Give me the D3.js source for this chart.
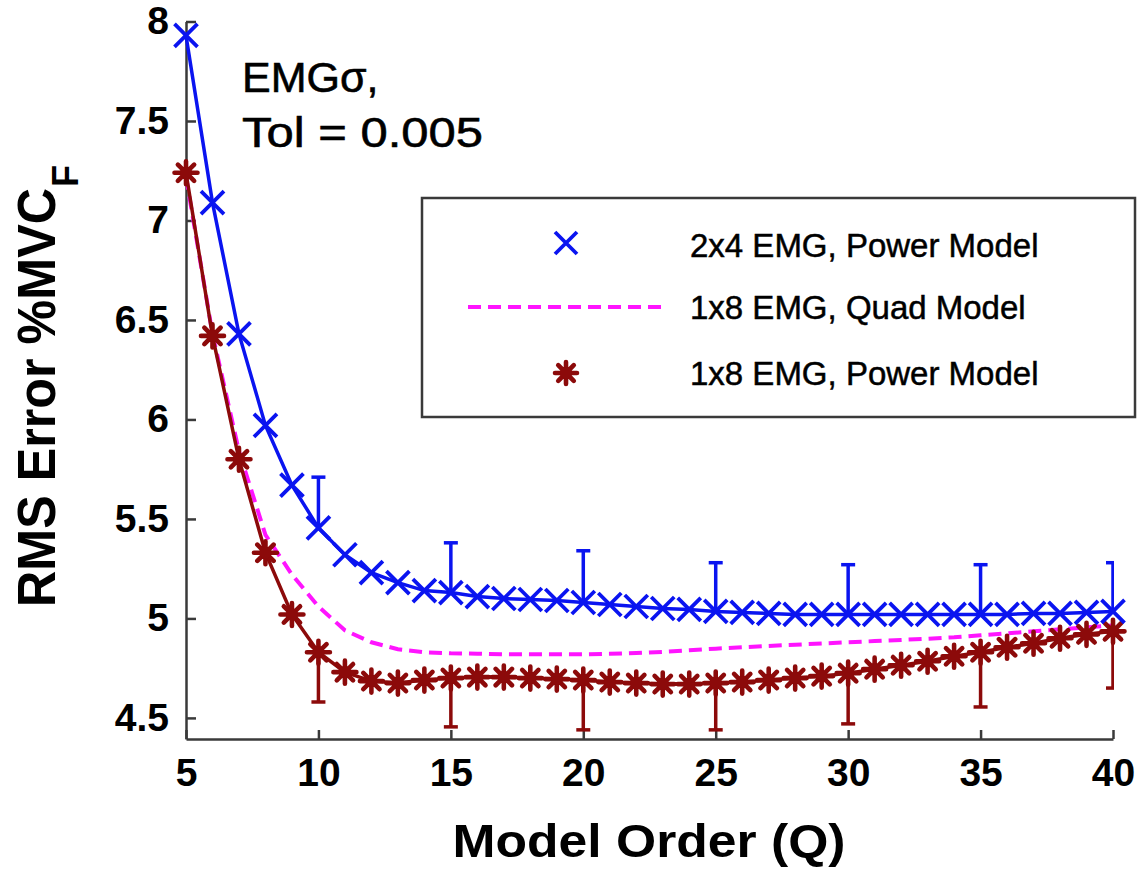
<!DOCTYPE html>
<html><head><meta charset="utf-8">
<script src="https://cdn.jsdelivr.net/npm/d3@7"></script>
<style>
html,body{margin:0;padding:0;background:#fff;}
svg{display:block;font-family:"Liberation Sans",Arial,sans-serif;}
</style></head>
<body>
<svg id="chart" width="1140" height="869"></svg>
<script>
const modelOrder = d3.range(5, 41);
const power2x4 = [7.93,7.09,6.43,5.97,5.67,5.455,5.32,5.23,5.18,5.14,5.13,5.11,5.10,5.095,5.09,5.08,5.07,5.06,5.05,5.045,5.035,5.03,5.025,5.02,5.02,5.02,5.02,5.02,5.02,5.02,5.02,5.02,5.025,5.025,5.03,5.035];
const quad1x8 = [7.22,6.43,5.84,5.42,5.22,5.06,4.94,4.88,4.845,4.83,4.825,4.823,4.82,4.82,4.82,4.82,4.822,4.826,4.832,4.84,4.848,4.855,4.862,4.868,4.874,4.88,4.886,4.892,4.898,4.905,4.915,4.925,4.935,4.945,4.955,4.965];
const power1x8 = [7.24,6.42,5.80,5.33,5.02,4.83,4.73,4.685,4.675,4.69,4.70,4.705,4.705,4.70,4.695,4.69,4.68,4.675,4.67,4.67,4.675,4.68,4.69,4.70,4.71,4.725,4.745,4.765,4.785,4.81,4.83,4.855,4.875,4.90,4.92,4.935];
const errQ = [10,15,20,25,30,35,40];
const power2x4Upper = [5.71,5.38,5.34,5.28,5.27,5.27,5.28];
const power1x8Lower = [4.58,4.455,4.44,4.44,4.47,4.555,4.65];
const xTicks = [5,10,15,20,25,30,35,40];
const yTicks = [4.5,5,5.5,6,6.5,7,7.5,8];
const legendLabels = ["2x4 EMG, Power Model","1x8 EMG, Quad Model","1x8 EMG, Power Model"];

const blue = "#0a14f0", red = "#8c0a0a", mag = "#ff14ff", axisCol = "#3a3a3a";
const svg = d3.select("#chart");
const x = d3.scaleLinear().domain([5,40]).range([186,1113]);
const y = d3.scaleLinear().domain([4.394,8]).range([739,21.5]);

// axes
const xAxis = svg.append("g").attr("transform","translate(0,739)")
  .call(d3.axisBottom(x).tickValues(xTicks).tickSize(-9).tickSizeOuter(0).tickPadding(20).tickFormat(d=>d));
const yAxis = svg.append("g").attr("transform","translate(186,0)")
  .call(d3.axisLeft(y).tickValues(yTicks).tickSize(-10).tickSizeOuter(0).tickPadding(17).tickFormat(d=>d));
[xAxis,yAxis].forEach(a=>{
  a.select(".domain").attr("stroke",axisCol).attr("stroke-width",2.5);
  a.selectAll(".tick line").attr("stroke",axisCol).attr("stroke-width",2.5);
  a.selectAll(".tick text").attr("fill","#000").attr("font-size",39).attr("font-weight","bold");
});
xAxis.selectAll(".tick text").attr("dy","0.68em");

// clip for error bars
svg.append("clipPath").attr("id","clipR").append("rect").attr("x",0).attr("y",0).attr("width",1114).attr("height",869);

const line = d3.line().x((d,i)=>x(modelOrder[i])).y(d=>y(d));

// error bars
const eb = svg.append("g").attr("clip-path","url(#clipR)");
errQ.forEach((q,i)=>{
  const bi = modelOrder.indexOf(q);
  eb.append("line").attr("x1",x(q)).attr("x2",x(q)).attr("y1",y(power2x4[bi])).attr("y2",y(power2x4Upper[i])).attr("stroke",blue).attr("stroke-width",3.5);
  eb.append("line").attr("x1",x(q)-7).attr("x2",x(q)+7).attr("y1",y(power2x4Upper[i])).attr("y2",y(power2x4Upper[i])).attr("stroke",blue).attr("stroke-width",3.5);
  eb.append("line").attr("x1",x(q)).attr("x2",x(q)).attr("y1",y(power1x8[bi])).attr("y2",y(power1x8Lower[i])).attr("stroke",red).attr("stroke-width",3.5);
  eb.append("line").attr("x1",x(q)-7).attr("x2",x(q)+7).attr("y1",y(power1x8Lower[i])).attr("y2",y(power1x8Lower[i])).attr("stroke",red).attr("stroke-width",3.5);
});

// lines
svg.append("path").datum(quad1x8).attr("d",line).attr("fill","none").attr("stroke",mag).attr("stroke-width",4).attr("stroke-dasharray","13,7");
svg.append("path").datum(power1x8).attr("d",line).attr("fill","none").attr("stroke",red).attr("stroke-width",3.5);
svg.append("path").datum(power2x4).attr("d",line).attr("fill","none").attr("stroke",blue).attr("stroke-width",3.5);

function xMark(g,cx,cy,r,col){
  g.append("path").attr("d",`M${cx-r},${cy-r}L${cx+r},${cy+r}M${cx-r},${cy+r}L${cx+r},${cy-r}`)
   .attr("stroke",col).attr("stroke-width",3.8).attr("fill","none");
}
function star(g,cx,cy,r,col){
  const d = d3.range(8).map(k=>{const a=k*Math.PI/4;return `M${cx},${cy}L${cx+r*Math.cos(a)},${cy+r*Math.sin(a)}`;}).join("");
  g.append("path").attr("d",d).attr("stroke",col).attr("stroke-width",4.6).attr("stroke-linecap","round").attr("fill","none");
  g.append("circle").attr("cx",cx).attr("cy",cy).attr("r",6).attr("fill",col);
}
const mk = svg.append("g");
power1x8.forEach((v,i)=>star(mk,x(modelOrder[i]),y(v),11.5,red));
power2x4.forEach((v,i)=>xMark(mk,x(modelOrder[i]),y(v),11.5,blue));

// legend
const lg = svg.append("g");
lg.append("rect").attr("x",422).attr("y",198).attr("width",713).attr("height",219).attr("fill","#fff").attr("stroke",axisCol).attr("stroke-width",2.5);
xMark(lg,566,243,11,blue);
lg.append("line").attr("x1",468).attr("x2",668).attr("y1",307).attr("y2",307).attr("stroke",mag).attr("stroke-width",4).attr("stroke-dasharray","13,7");
star(lg,566,373,11,red);
[257,319,385].forEach((by,i)=>lg.append("text").attr("x",690).attr("y",by).attr("font-size",33).attr("fill","#000").attr("stroke","#000").attr("stroke-width",0.5).text(legendLabels[i]));

// annotation
svg.append("text").attr("x",242).attr("y",92).attr("font-size",43).attr("fill","#000").attr("stroke","#000").attr("stroke-width",0.6).text("EMGσ,");
svg.append("text").attr("x",242).attr("y",147).attr("font-size",43).attr("fill","#000").attr("stroke","#000").attr("stroke-width",0.6).attr("textLength",241).attr("lengthAdjust","spacingAndGlyphs").text("Tol = 0.005");

// axis titles
svg.append("text").attr("x",649).attr("y",857).attr("text-anchor","middle").attr("font-size",46).attr("font-weight","bold").attr("textLength",393).attr("lengthAdjust","spacingAndGlyphs").text("Model Order (Q)");
svg.append("text").attr("transform","translate(55,607) rotate(-90)").attr("font-size",53).attr("font-weight","bold").attr("textLength",419).attr("lengthAdjust","spacingAndGlyphs").text("RMS Error %MVC");
svg.append("text").attr("transform","translate(78,187) rotate(-90)").attr("font-size",36).attr("font-weight","bold").text("F");
</script>
</body></html>
